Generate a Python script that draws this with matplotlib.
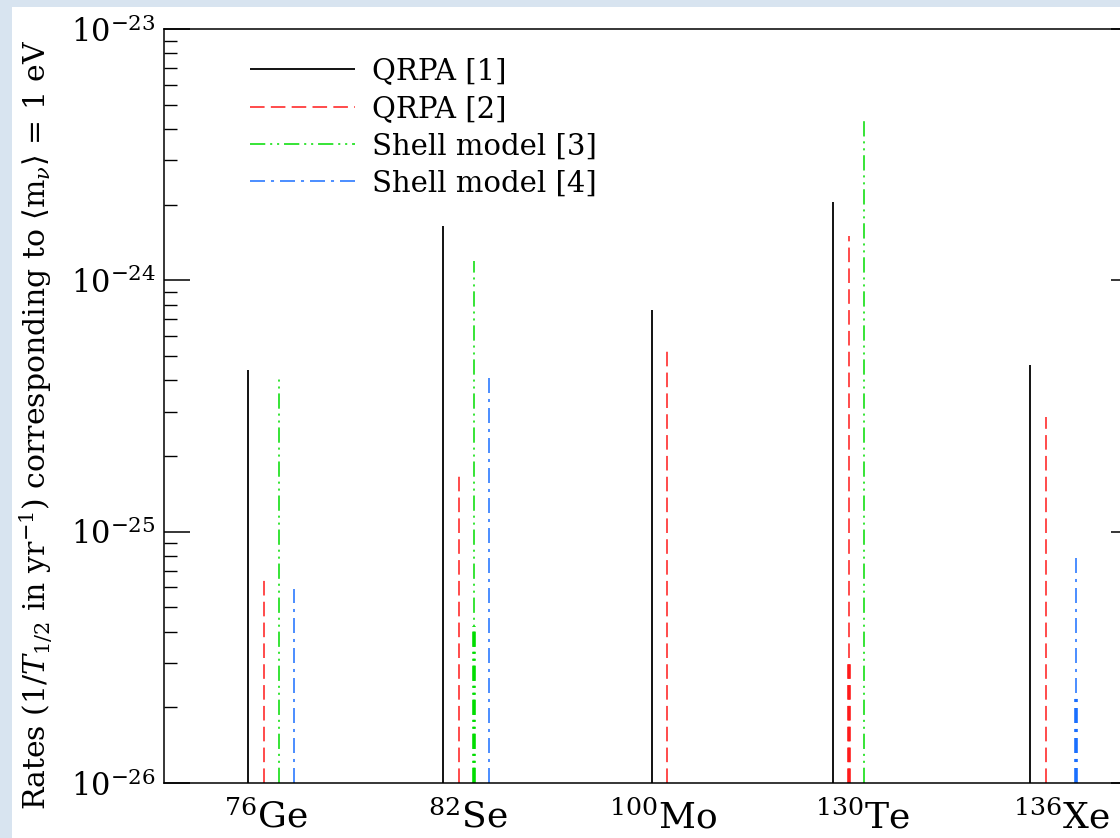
import numpy as np
import matplotlib
matplotlib.use("Agg")
import matplotlib.pyplot as plt
from matplotlib.patches import Rectangle

plt.rcParams['font.family'] = ['DejaVu Serif']
plt.rcParams['mathtext.fontset'] = 'dejavuserif'
plt.rcParams['lines.scale_dashes'] = False

# nuclei and where each group sits on the x axis
nuclei = [r'$^{76}\mathrm{Ge}$', r'$^{82}\mathrm{Se}$', r'$^{100}\mathrm{Mo}$',
          r'$^{130}\mathrm{Te}$', r'$^{136}\mathrm{Xe}$']
group_pos = [0.55, 1.55, 2.62, 3.55, 4.56]
label_pos = [0.52, 1.56, 2.56, 3.58, 4.60]

# rates (1/T_1/2 in yr^-1) for <m_nu> = 1 eV, None = not computed
qrpa1 = [4.4e-25, 1.65e-24, 7.6e-25, 2.05e-24, 4.6e-25]
qrpa2 = [6.4e-26, 1.73e-25, 5.35e-25, 1.50e-24, 2.85e-25]
shell3 = [4.2e-25, 1.19e-24, None, 4.4e-24, None]
shell4 = [5.9e-26, 4.2e-25, None, None, 8.0e-26]

# second (overlapping) values drawn on top of the same line
qrpa2_low = [None, None, None, 3.1e-26, None]
shell3_low = [None, 4.2e-26, None, None, None]
shell4_low = [None, None, None, None, 2.2e-26]

labels = ['QRPA [1]', 'QRPA [2]', 'Shell model [3]', 'Shell model [4]']
colors = ['black', '#ff1a1a', '#00dd00', '#1a6fff']
styles = ['-', (0, (10.5, 4.5)), (0, (11, 3.5, 1.5, 3.5, 1.5, 3.5)), (0, (10.8, 4.3, 2.2, 4.3))]

ymin = 1e-26
step = 0.078

fig = plt.figure(figsize=(11.2, 8.38), dpi=100)
fig.patch.set_facecolor('#d8e4f0')
fig.patches.append(Rectangle((12 / 1120, 0), 1, 1 - 7 / 838, transform=fig.transFigure,
                             facecolor='white', edgecolor='none', zorder=-1))

ax = fig.add_axes([164 / 1120, 55 / 838, 973 / 1120, 754 / 838])
ax.set_facecolor('white')

series = [qrpa1, qrpa2, shell3, shell4]
lows = [[None] * 5, qrpa2_low, shell3_low, shell4_low]
for k, (vals, low) in enumerate(zip(series, lows)):
    off = (k - 1.5) * step
    xs = [g + off for g, v in zip(group_pos, vals) if v is not None]
    ys = [v for v in vals if v is not None]
    ax.vlines(xs, ymin, ys, colors=colors[k], linestyles=[styles[k]],
              linewidth=1.3 if k == 0 else 1.1, label=labels[k])
    xl = [g + off for g, v in zip(group_pos, low) if v is not None]
    yl = [v for v in low if v is not None]
    if xl:
        ax.vlines(xl, ymin, yl, colors=colors[k], linestyles=[styles[k]], linewidth=2.6)

ax.set_yscale('log')
ax.set_ylim(1e-26, 1e-23)
ax.set_xlim(0, 4.99)

ax.set_xticks(label_pos)
ax.set_xticklabels(nuclei, fontsize=26)
ax.tick_params(axis='x', length=0, pad=12)
ax.tick_params(axis='y', which='major', direction='in', length=19, width=1.1,
               labelsize=22, right=True, pad=6)
ax.tick_params(axis='y', which='minor', direction='in', length=9.5, width=1.0, right=True)
for s in ax.spines.values():
    s.set_linewidth(1.1)

ax.set_ylabel(r'Rates (1/$T_{1/2}$ in yr$^{-1}$) corresponding to $\langle$m$_{\nu}\rangle$ = 1 eV',
              fontsize=21.5)
ax.yaxis.set_label_coords(-0.112, 0.475)

ax.legend(loc='upper left', bbox_to_anchor=(0.088, 0.962), frameon=False, fontsize=21,
          handlelength=3.6, handletextpad=0.6, labelspacing=0.32, borderpad=0,
          borderaxespad=0)

fig.savefig('out.png', dpi=100, facecolor=fig.get_facecolor())
